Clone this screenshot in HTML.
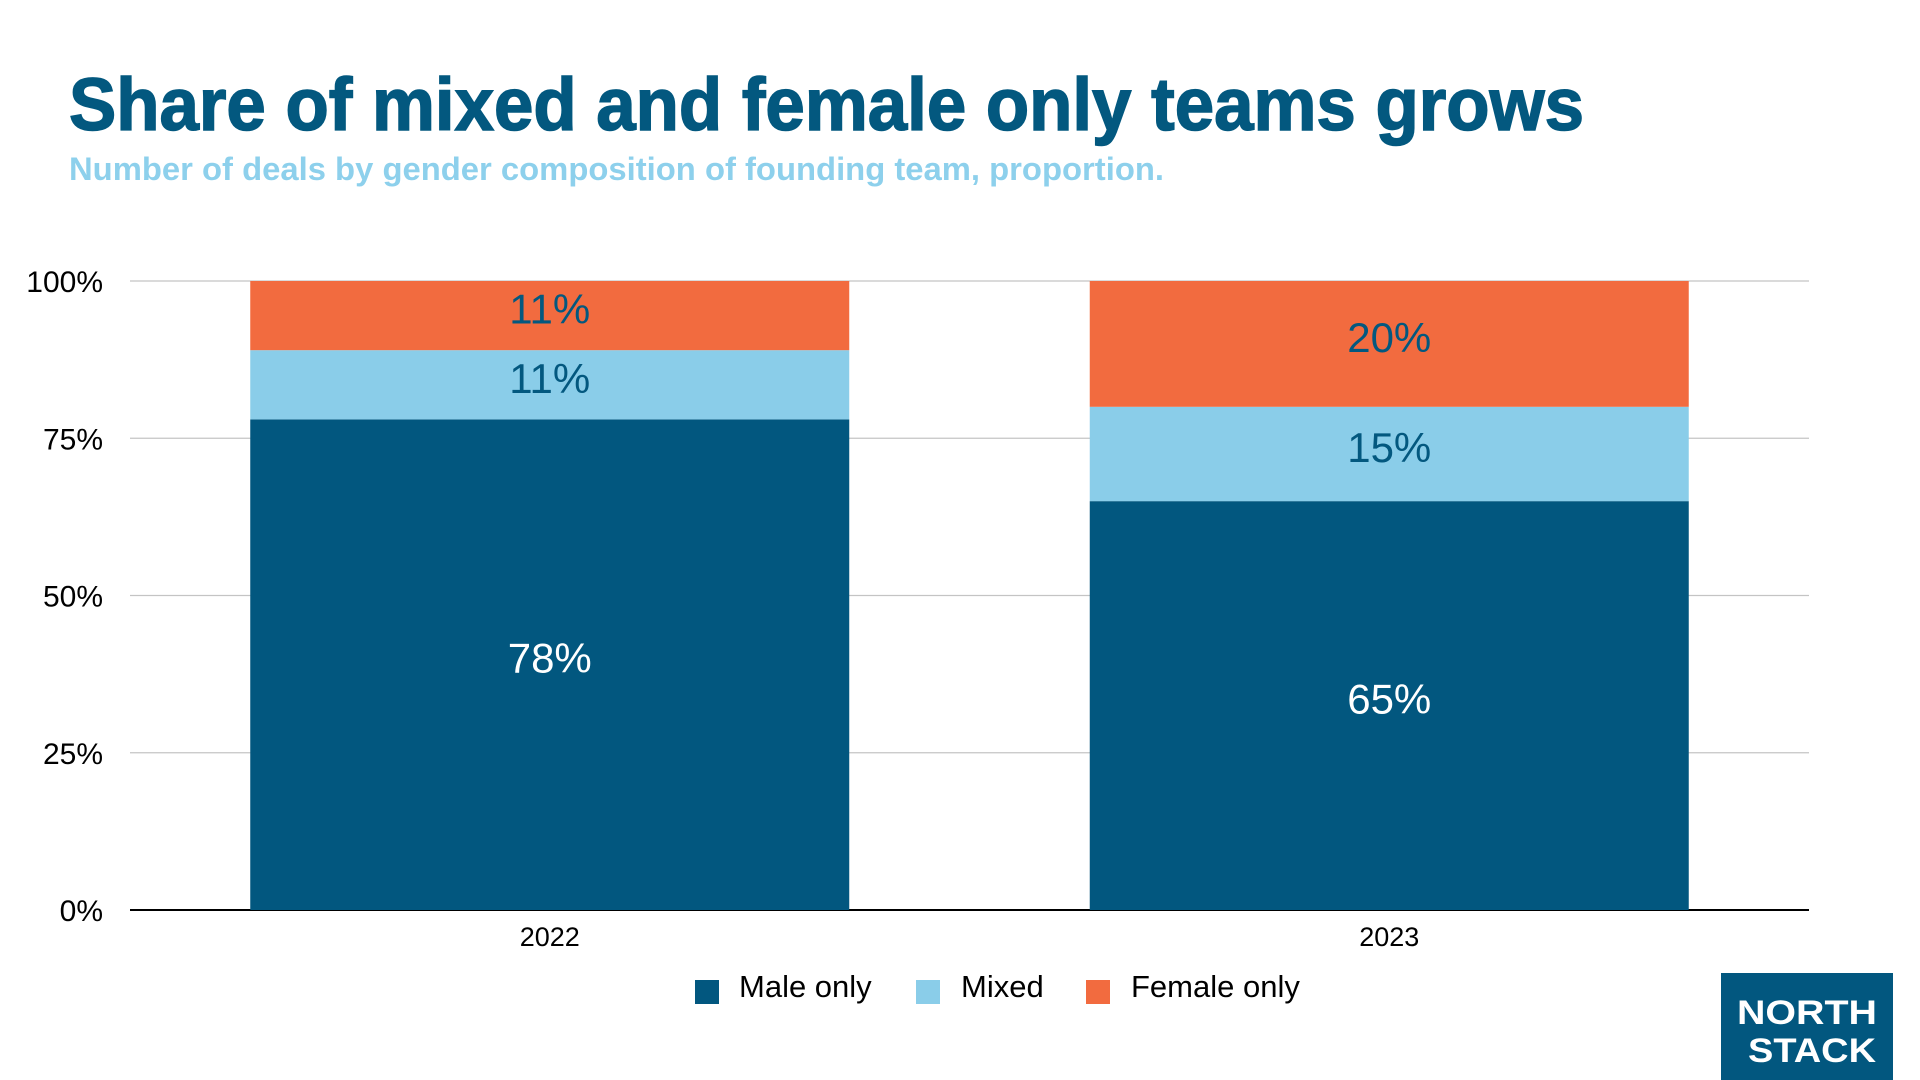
<!DOCTYPE html>
<html><head><meta charset="utf-8"><style>
html,body{margin:0;padding:0;background:#fff;width:1920px;height:1080px;overflow:hidden}
svg{display:block;font-family:"Liberation Sans",sans-serif}
</style></head><body>
<svg id="chart" width="1920" height="1080" viewBox="0 0 1920 1080">
<text x="69" y="130" font-size="74" font-weight="bold" fill="#03587f" stroke="#03587f" stroke-width="1.5" textLength="1515" lengthAdjust="spacingAndGlyphs">Share of mixed and female only teams grows</text>
<text x="69" y="180" font-size="32" font-weight="bold" fill="#8dd0ec" textLength="1095" lengthAdjust="spacingAndGlyphs">Number of deals by gender composition of founding team, proportion.</text>
<g id="grid"></g>
<g id="bars"></g>
<g id="labels"></g>
<g>
<rect x="695" y="980" width="24" height="24" fill="#02577f"/>
<text x="739" y="997" font-size="31" fill="#000">Male only</text>
<rect x="916" y="980" width="24" height="24" fill="#8acde9"/>
<text x="961" y="997" font-size="31" fill="#000">Mixed</text>
<rect x="1086" y="980" width="24" height="24" fill="#f26b3f"/>
<text x="1131" y="997" font-size="31" fill="#000">Female only</text>
</g>
<g>
<rect x="1721" y="973" width="172" height="107" fill="#02577f"/>
<text x="1807" y="1024" font-size="34" font-weight="bold" fill="#fff" text-anchor="middle" textLength="140" lengthAdjust="spacingAndGlyphs">NORTH</text>
<text x="1812" y="1062" font-size="34" font-weight="bold" fill="#fff" text-anchor="middle" textLength="128" lengthAdjust="spacingAndGlyphs">STACK</text>
</g>
</svg>
<script>
const categories = ["2022", "2023"];
const maleOnly = [78, 65];
const mixed = [11, 15];
const femaleOnly = [11, 20];
const tickValues = [0, 25, 50, 75, 100];
const tickLabels = ["0%", "25%", "50%", "75%", "100%"];

const NS = "http://www.w3.org/2000/svg";
const plotL = 130, plotR = 1809, plotT = 281, plotB = 910;
const yScale = v => plotB - (v / 100) * (plotB - plotT);
const band = (plotR - plotL) / categories.length;
const barW = 599;
const xCenter = i => plotL + band * (i + 0.5);
function mk(tag, attrs, parent){const e=document.createElementNS(NS,tag);for(const k in attrs)e.setAttribute(k,attrs[k]);parent.appendChild(e);return e;}

const grid = document.getElementById('grid');
tickValues.forEach((v, i) => {
  const y = yScale(v);
  const ln = mk('line', {x1: plotL, x2: plotR, y1: y, y2: y, stroke: v === 0 ? '#000' : '#c4c4c4', 'stroke-width': v === 0 ? 2 : 1.3}, grid);
  
  
  const t = mk('text', {x: 103, y: y + 11, 'font-size': 30, 'text-anchor': 'end', fill: '#000'}, grid);
  t.textContent = tickLabels[i];
  
  
});

const bars = document.getElementById('bars');
const labels = document.getElementById('labels');
const series = [
  {vals: maleOnly, color: '#02577f', text: '#ffffff', name: 'male-only'},
  {vals: mixed, color: '#8acde9', text: '#03587f', name: 'mixed'},
  {vals: femaleOnly, color: '#f26b3f', text: '#03587f', name: 'female-only'}
];
categories.forEach((c, i) => {
  let base = 0;
  const cx = xCenter(i);
  series.forEach(s => {
    const v = s.vals[i];
    const y0 = yScale(base), y1 = yScale(base + v);
    const r = mk('rect', {x: cx - barW / 2, y: y1, width: barW, height: y0 - y1, fill: s.color}, bars);
    
    
    const t = mk('text', {x: cx, y: (y0 + y1) / 2 + 8, 'font-size': 42, 'text-anchor': 'middle', fill: s.text}, labels);
    t.textContent = v + '%';
    
    
    base += v;
  });
  const xl = mk('text', {x: cx, y: 946, 'font-size': 27, 'text-anchor': 'middle', fill: '#000'}, labels);
  xl.textContent = c;
  
  
});
</script>
</body></html>
